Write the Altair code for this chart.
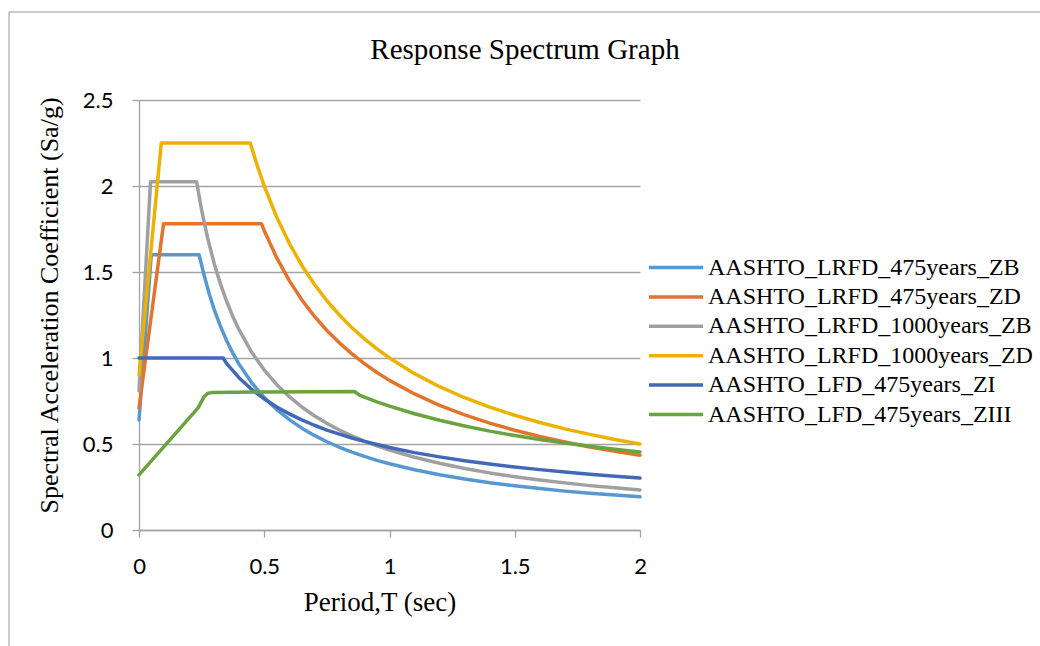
import altair as alt
import pandas as pd

# ---- data ----
series_names = [
    "AASHTO_LRFD_475years_ZB",
    "AASHTO_LRFD_475years_ZD",
    "AASHTO_LRFD_1000years_ZB",
    "AASHTO_LRFD_1000years_ZD",
    "AASHTO_LFD_475years_ZI",
    "AASHTO_LFD_475years_ZIII",
]
series_colors = ["#5898D0", "#E2752E", "#A0A0A0", "#EDB100", "#4169B8", "#69A440"]

t_lrfd475_zb = [0, 0.049, 0.24, 0.26, 0.28, 0.30, 0.325, 0.35, 0.375, 0.40, 0.45, 0.50, 0.55, 0.60,
                0.65, 0.70, 0.75, 0.80, 0.85, 0.90, 0.95, 1.0, 1.1, 1.2, 1.3, 1.4, 1.5, 1.6, 1.7, 1.8, 1.9, 2.0]
sa_lrfd475_zb = [0.64, 1.60, 1.60, 1.481, 1.375, 1.283, 1.185, 1.100, 1.027, 0.963, 0.856, 0.770, 0.700, 0.642,
                 0.592, 0.550, 0.513, 0.481, 0.453, 0.428, 0.405, 0.385, 0.350, 0.321, 0.296, 0.275, 0.257, 0.241,
                 0.226, 0.214, 0.203, 0.193]

t_lrfd475_zd = [0, 0.098, 0.489, 0.50, 0.55, 0.60, 0.65, 0.70, 0.75, 0.80, 0.85, 0.90, 0.95, 1.0,
                1.1, 1.2, 1.3, 1.4, 1.5, 1.6, 1.7, 1.8, 1.9, 2.0]
sa_lrfd475_zd = [0.71, 1.78, 1.78, 1.74, 1.582, 1.45, 1.338, 1.243, 1.16, 1.088, 1.024, 0.967, 0.916, 0.87,
                 0.791, 0.725, 0.669, 0.621, 0.58, 0.544, 0.512, 0.483, 0.458, 0.435]

t_lrfd1000_zb = [0, 0.046, 0.23, 0.25, 0.275, 0.30, 0.325, 0.35, 0.375, 0.40, 0.45, 0.50, 0.55, 0.60,
                 0.65, 0.70, 0.75, 0.80, 0.85, 0.90, 0.95, 1.0, 1.1, 1.2, 1.3, 1.4, 1.5, 1.6, 1.7, 1.8, 1.9, 2.0]
sa_lrfd1000_zb = [0.81, 2.025, 2.025, 1.86, 1.691, 1.55, 1.431, 1.329, 1.24, 1.163, 1.033, 0.93, 0.845, 0.775,
                  0.715, 0.664, 0.62, 0.581, 0.547, 0.517, 0.489, 0.465, 0.423, 0.388, 0.358, 0.332, 0.31,
                  0.291, 0.274, 0.258, 0.245, 0.233]

t_lrfd1000_zd = [0, 0.089, 0.444, 0.475, 0.50, 0.55, 0.60, 0.65, 0.70, 0.75, 0.80, 0.85, 0.90, 0.95, 1.0,
                 1.1, 1.2, 1.3, 1.4, 1.5, 1.6, 1.7, 1.8, 1.9, 2.0]
sa_lrfd1000_zd = [0.90, 2.25, 2.25, 2.105, 2.0, 1.818, 1.667, 1.538, 1.429, 1.333, 1.25, 1.176, 1.111, 1.053, 1.0,
                  0.909, 0.833, 0.769, 0.714, 0.667, 0.625, 0.588, 0.556, 0.526, 0.5]

t_lfd_zi = [0, 0.336, 0.35, 0.40, 0.45, 0.50, 0.55, 0.60, 0.65, 0.70, 0.75, 0.80, 0.85, 0.90, 0.95, 1.0,
            1.1, 1.2, 1.3, 1.4, 1.5, 1.6, 1.7, 1.8, 1.9, 2.0]
sa_lfd_zi = [1.0, 1.0, 0.967, 0.884, 0.817, 0.762, 0.715, 0.675, 0.640, 0.609, 0.581, 0.557, 0.535, 0.515,
             0.497, 0.48, 0.450, 0.425, 0.403, 0.384, 0.366, 0.351, 0.337, 0.324, 0.313, 0.302]

t_lfd_ziii = [0, 0.236, 0.245, 0.26, 0.275, 0.295, 0.50, 0.86, 0.88, 0.90, 0.95, 1.0,
              1.1, 1.2, 1.3, 1.4, 1.5, 1.6, 1.7, 1.8, 1.9, 2.0]
sa_lfd_ziii = [0.32, 0.71, 0.735, 0.775, 0.795, 0.80, 0.803, 0.805, 0.784, 0.772, 0.745, 0.72,
               0.676, 0.638, 0.605, 0.575, 0.549, 0.526, 0.506, 0.487, 0.469, 0.454]

x_ticks = [0, 0.5, 1, 1.5, 2]
y_ticks = [0, 0.5, 1, 1.5, 2, 2.5]
chart_title = "Response Spectrum Graph"

all_t = [t_lrfd475_zb, t_lrfd475_zd, t_lrfd1000_zb, t_lrfd1000_zd, t_lfd_zi, t_lfd_ziii]
all_sa = [sa_lrfd475_zb, sa_lrfd475_zd, sa_lrfd1000_zb, sa_lrfd1000_zd, sa_lfd_zi, sa_lfd_ziii]

rows = []
for name, ts, sas in zip(series_names, all_t, all_sa):
    for i, (t, s) in enumerate(zip(ts, sas)):
        rows.append({"series": name, "T": t, "Sa": s, "order": i})
df = pd.DataFrame(rows)

SERIF = "Liberation Serif"
SANS = "Lato"
GRID = "#A3A3A3"

lines = alt.Chart(df).mark_line(strokeWidth=3.5, strokeJoin="round", strokeCap="round").encode(
    x=alt.X("T:Q", scale=alt.Scale(domain=[0, 2], nice=False),
            axis=alt.Axis(values=x_ticks, format="~g", title="Period,T (sec)", grid=False,
                          tickSize=7, labelPadding=19, labelFlush=False,
                          titleFontSize=27, titleX=240.5, titleY=80, titleBaseline="alphabetic")),
    y=alt.Y("Sa:Q", scale=alt.Scale(domain=[0, 2.5], nice=False),
            axis=alt.Axis(values=y_ticks, format="~g", title="Spectral Acceleration Coefficient (Sa/g)",
                          grid=True, tickSize=7, labelPadding=19, labelFlush=False,
                          titleFontSize=26, titleX=-82, titleY=205, titleAngle=270, titleAlign="center",
                          titleBaseline="alphabetic")),
    color=alt.Color("series:N", sort=series_names,
                    scale=alt.Scale(domain=series_names, range=series_colors),
                    legend=alt.Legend(title=None, orient="none", legendX=508, legendY=153,
                                      symbolType="M-1,0H3.32", symbolSize=625,
                                      symbolStrokeWidth=3.5, labelOffset=32,
                                      labelFont=SERIF, labelFontSize=24, labelColor="#000000",
                                      rowPadding=2.4, labelLimit=0)),
    order="order:Q",
)

frame = alt.Chart(pd.DataFrame({"a": [0]})).mark_rect(fill=None, stroke="#999999", strokeWidth=1).encode(
    x=alt.value(-130), x2=alt.value(950), y=alt.value(-88), y2=alt.value(600)
)

title_text = alt.Chart(pd.DataFrame({"label": [chart_title]})).mark_text(
    font=SERIF, fontSize=29, color="#000000", align="center", baseline="alphabetic"
).encode(text="label:N", x=alt.value(386), y=alt.value(-41))

chart = alt.layer(frame, lines, title_text).properties(
    width=501, height=430,
    autosize=alt.AutoSizeParams(type="none"),
    padding={"left": 139, "top": 100, "right": 400, "bottom": 116},
    background="#FFFFFF",
).configure_view(stroke=None).configure_axis(
    domainColor=GRID, tickColor=GRID, gridColor=GRID, domainWidth=1.3, tickWidth=1.3, gridWidth=1.3,
    labelFont=SANS, labelFontSize=22, labelColor="#000000",
    titleFont=SERIF, titleFontWeight="normal", titleColor="#000000",
)

chart.save("out.html", embed_options={"renderer": "svg", "actions": False})
